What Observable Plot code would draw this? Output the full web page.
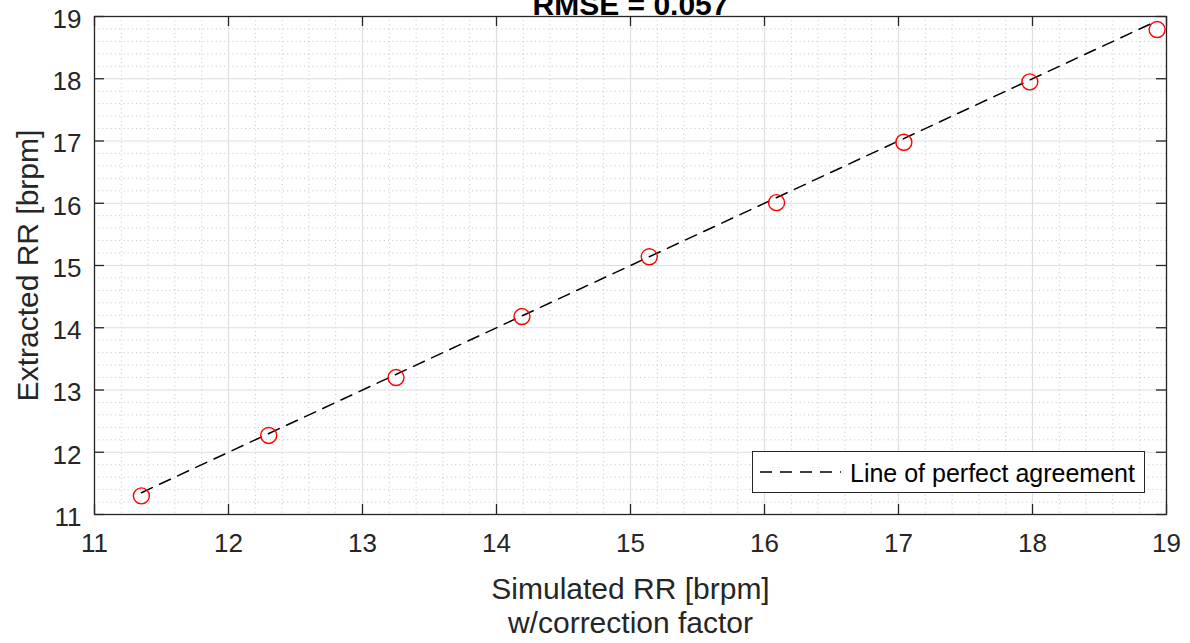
<!DOCTYPE html>
<html><head><meta charset="utf-8">
<script src="https://cdn.jsdelivr.net/npm/d3@7"></script>
<script src="https://cdn.jsdelivr.net/npm/@observablehq/plot@0.6"></script>
<style>
body{margin:0;background:#fff;}
#wrap{position:relative;width:1190px;height:643px;overflow:hidden;font-family:"Liberation Sans",Arial,sans-serif;}
#legend{position:absolute;left:752px;top:451px;width:393px;height:42px;box-sizing:border-box;border:1px solid #262626;background:#fff;}
#legend svg{display:block;}
</style>
</head><body>
<div id="wrap"><div id="chart"></div>
<div id="legend"></div></div>
<script>
const titleText = "RMSE = 0.057";
const xLabel = "Simulated RR [brpm]\nw/correction factor";
const yLabel = "Extracted RR [brpm]";
const legendLabel = "Line of perfect agreement";
const xTicks = [11, 12, 13, 14, 15, 16, 17, 18, 19];
const yTicks = [11, 12, 13, 14, 15, 16, 17, 18, 19];
const simulatedRR = [11.35, 12.30, 13.25, 14.19, 15.14, 16.09, 17.04, 17.98, 18.93];
const extractedRR = [11.30, 12.27, 13.20, 14.18, 15.14, 16.01, 16.98, 17.95, 18.79];
const agreementX = [11.35, 18.93];

const points = simulatedRR.map((x, i) => ({x, y: extractedRR[i]}));
const agreement = agreementX.map(v => ({x: v, y: v}));
const minorX = d3.range(11, 19.0001, 0.2).filter(v => Math.abs(v - Math.round(v)) > 1e-6);
const minorY = minorX.slice();
const axisColor = "#262626";
const tickLen = 10;
const frameH = 643 - 16 - 129;
const frameW = 1190 - 94 - 24;

const chart = Plot.plot({
  width: 1190, height: 643,
  marginLeft: 94, marginRight: 24, marginTop: 16, marginBottom: 129,
  style: {fontFamily: "'Liberation Sans', Arial, sans-serif", background: "white", overflow: "visible", color: axisColor},
  x: {domain: [11, 19]},
  y: {domain: [11, 19]},
  marks: [
    Plot.ruleX(minorX, {x: d => d, stroke: "#b5b5b5", strokeWidth: 0.8, strokeDasharray: "1,3.2"}),
    Plot.ruleY(minorY, {y: d => d, stroke: "#b5b5b5", strokeWidth: 0.8, strokeDasharray: "1,3.2"}),
    Plot.ruleX(xTicks, {x: d => d, stroke: "#dedede", strokeWidth: 1.2}),
    Plot.ruleY(yTicks, {y: d => d, stroke: "#dedede", strokeWidth: 1.2}),
    Plot.line(agreement, {x: "x", y: "y", stroke: "black", strokeWidth: 1.5, strokeDasharray: "12,8"}),
    Plot.dot(points, {x: "x", y: "y", r: 8, stroke: "red", strokeWidth: 1.4, fill: "none"}),
    Plot.frame({stroke: axisColor, strokeWidth: 1.3}),
    Plot.tickX(xTicks, {x: d => d, insetTop: frameH - tickLen, stroke: axisColor, strokeWidth: 1.3}),
    Plot.tickX(xTicks, {x: d => d, insetBottom: frameH - tickLen, stroke: axisColor, strokeWidth: 1.3}),
    Plot.tickY(yTicks, {y: d => d, insetRight: frameW - tickLen, stroke: axisColor, strokeWidth: 1.3}),
    Plot.tickY(yTicks, {y: d => d, insetLeft: frameW - tickLen, stroke: axisColor, strokeWidth: 1.3}),
    Plot.axisX(xTicks, {tickSize: 0, tickPadding: 19, fontSize: 26, label: null, fill: axisColor, tickFormat: d => String(d)}),
    Plot.axisY(yTicks, {tickSize: 0, tickPadding: 13, fontSize: 26, label: null, fill: axisColor, dy: 3, tickFormat: d => String(d)}),
    Plot.text([titleText], {text: d => d, frameAnchor: "top", lineAnchor: "bottom", dy: -2, fontSize: 30, fontWeight: "bold", fill: "black"}),
    Plot.text([xLabel], {text: d => d, frameAnchor: "bottom", lineAnchor: "top", dy: 60, fontSize: 30, lineHeight: 1.14, fill: axisColor}),
    Plot.text([yLabel], {text: d => d, frameAnchor: "left", rotate: -90, dx: -66, lineAnchor: "middle", textAnchor: "middle", fontSize: 30, fill: axisColor})
  ]
});
document.getElementById("chart").appendChild(chart);

const lg = d3.select("#legend").append("svg").attr("width", 391).attr("height", 40);
lg.append("line").attr("x1", 7).attr("x2", 88).attr("y1", 20).attr("y2", 20)
  .attr("stroke", "black").attr("stroke-width", 1.5).attr("stroke-dasharray", "12,8");
lg.append("text").attr("x", 97).attr("y", 30).attr("font-size", 25)
  .attr("font-family", "'Liberation Sans', Arial, sans-serif").attr("fill", "black").text(legendLabel);
</script>
</body></html>
